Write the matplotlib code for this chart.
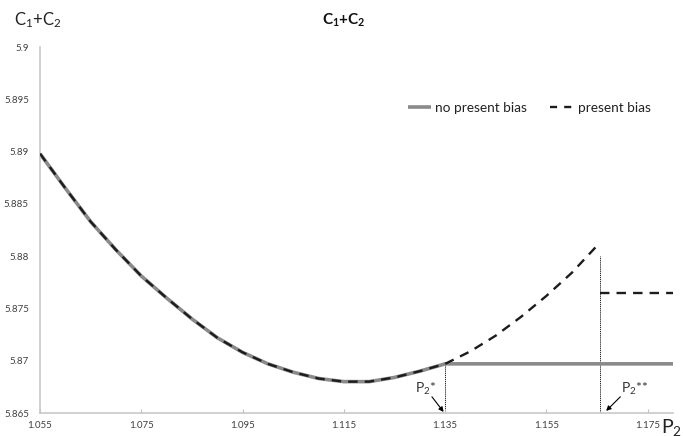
import matplotlib
matplotlib.use("Agg")
import matplotlib.pyplot as plt

plt.rcParams['font.family'] = ['Lato', 'DejaVu Sans']
plt.rcParams['mathtext.default'] = 'regular'

# Data
p2 = [1.055, 1.060, 1.065, 1.070, 1.075, 1.080, 1.085, 1.090, 1.095, 1.100,
      1.105, 1.110, 1.115, 1.120, 1.125, 1.130, 1.135]
c_common = [5.8898, 5.8865, 5.8833, 5.8806, 5.8781, 5.8760, 5.8740, 5.8722,
            5.8708, 5.8697, 5.8689, 5.8683, 5.8680, 5.8680, 5.8684, 5.8690, 5.8697]

p2_bias_ext = [1.140, 1.145, 1.150, 1.155, 1.160, 1.165, 1.1655]
c_bias_ext = [5.8709, 5.8724, 5.8742, 5.8762, 5.8784, 5.8810, 5.8813]

p2_star = 1.135
p2_2star = 1.1655
c_flat_nobias = 5.8697
c_flat_bias = 5.8765
c_vline_top = 5.8800
x_max = 1.180

xticks = [1.055, 1.075, 1.095, 1.115, 1.135, 1.155, 1.175]
yticks = [5.865, 5.87, 5.875, 5.88, 5.885, 5.89, 5.895, 5.9]
ytick_labels = ['5.865', '5.87', '5.875', '5.88', '5.885', '5.89', '5.895', '5.9']

W, H = 683, 436
fig = plt.figure(figsize=(W / 100, H / 100), dpi=100)
ax = fig.add_axes([40 / W, 23 / H, 633 / W, 366 / H])

gray = '#8a8a8a'
dark = '#1c1c1c'

# no present bias (solid gray)
ax.plot(p2 + [x_max], c_common + [c_flat_nobias], color=gray, lw=2.6,
        solid_capstyle='butt', label='no present bias', zorder=2)

# present bias (dashed)
ax.plot(p2 + p2_bias_ext, c_common + c_bias_ext, color=dark, lw=1.7,
        dashes=(4, 3), zorder=3)
ax.plot([p2_2star, x_max], [c_flat_bias, c_flat_bias], color=dark, lw=1.7,
        dashes=(4, 3), zorder=3)
ax.plot([], [], color=dark, lw=1.7, dashes=(3, 3), label='present bias')

# vertical dotted lines
ax.plot([p2_star, p2_star], [5.865, c_flat_nobias], color='black', lw=0.6,
        dashes=(1.5, 1), zorder=1)
ax.plot([p2_2star, p2_2star], [5.865, c_vline_top], color='black', lw=0.6,
        dashes=(1.5, 1), zorder=1)

# annotations
sub2 = r'P$_2$'
ax.text(1.1312, 5.8673, sub2 + '*', ha='center', va='center', fontsize=10,
        color='#333333')
ax.text(1.1724, 5.8673, sub2 + '**', ha='center', va='center', fontsize=10,
        color='#333333')
arrow = dict(arrowstyle='-|>', color='black', lw=0.8, mutation_scale=7,
             shrinkA=0, shrinkB=0)
ax.annotate('', xy=(1.1347, 5.8651), xytext=(1.1324, 5.86655), arrowprops=arrow)
ax.annotate('', xy=(1.1668, 5.8652), xytext=(1.1696, 5.86655), arrowprops=arrow)

ax.set_xlim(1.055, x_max)
ax.set_ylim(5.865, 5.9)
ax.set_xticks(xticks)
ax.set_xticklabels([f'{t:.3f}' for t in xticks])
ax.set_yticks(yticks)
ax.set_yticklabels(ytick_labels)
ax.tick_params(axis='x', length=3, direction='in', color='#bfbfbf',
               labelsize=7, labelcolor='#404040', pad=6)
ax.tick_params(axis='y', length=0, labelsize=7, labelcolor='#404040', pad=8)

for s in ['top', 'right']:
    ax.spines[s].set_visible(False)
for s in ['left', 'bottom']:
    ax.spines[s].set_color('#c8c8c8')
    ax.spines[s].set_linewidth(1.2)

ax.legend(loc='center left', bbox_to_anchor=(356 / 633, 0.834), ncol=2,
          frameon=False, fontsize=9.8, handlelength=1.7, handletextpad=0.3,
          columnspacing=1.7, labelcolor='#222222')

fig.text(344 / W, 1 - 20 / H, r'C$_1$+C$_2$', ha='center', va='center',
         fontsize=11, fontweight='bold', color='#111111')
fig.text(14 / W, 1 - 20 / H, r'C$_1$+C$_2$', ha='left', va='center',
         fontsize=12, color='#222222')
fig.text(672 / W, 1 - 427 / H, r'P$_2$', ha='center', va='center',
         fontsize=14, color='#222222')

fig.savefig('out.png', dpi=100)
